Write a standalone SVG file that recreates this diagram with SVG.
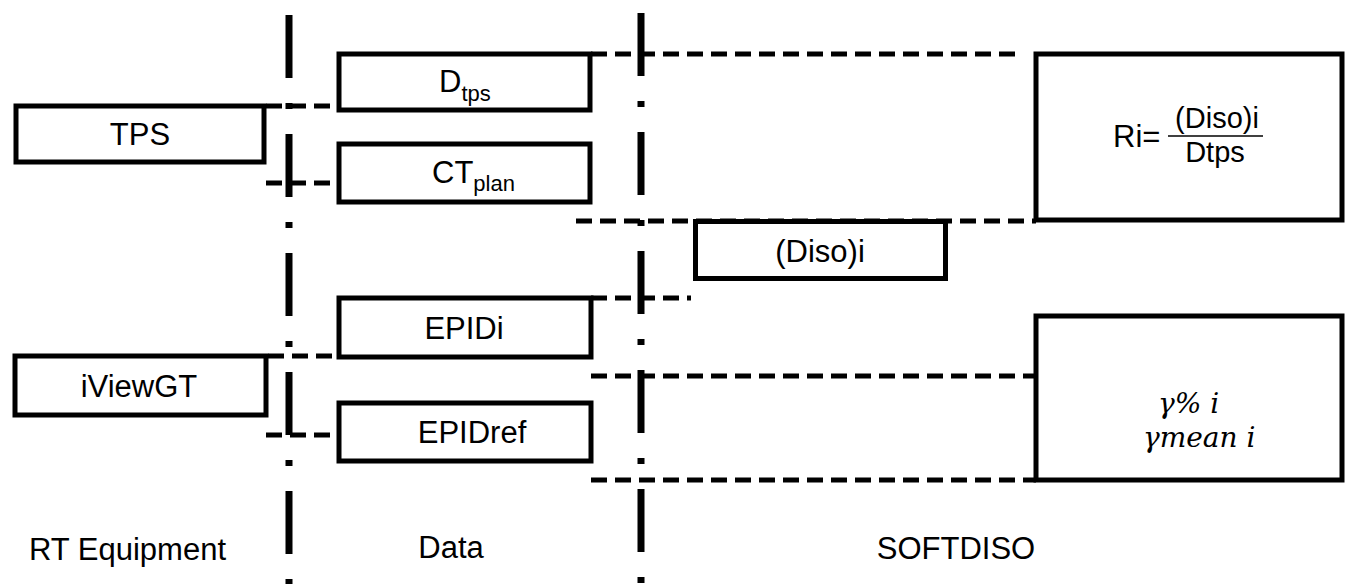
<svg xmlns="http://www.w3.org/2000/svg" width="1349" height="584" viewBox="0 0 1349 584">
<style>
.box{fill:#fff;stroke:#000;stroke-width:5;stroke-linejoin:miter}
.sep{stroke:#000;stroke-width:7;stroke-dasharray:63 25 6 25;fill:none}
.con{stroke:#000;stroke-width:5;stroke-dasharray:16 8;fill:none}
.t{font-family:"Liberation Sans",Arial,sans-serif;font-size:31px;fill:#000}
.f{font-size:29px}
.m{text-anchor:middle}
.sub{font-size:22px}
.g{font-family:"DejaVu Serif","Liberation Serif",serif;font-style:italic;font-size:28px;fill:#000}
</style>
<rect width="1349" height="584" fill="#fff"/>
<g id="separators">
<line class="sep" x1="289" y1="15" x2="289" y2="584"/>
<line class="sep" x1="641" y1="13" x2="641" y2="584"/>
</g>
<g id="connectors">
<line class="con" x1="266" y1="106" x2="337" y2="106"/>
<line class="con" x1="266" y1="183" x2="337" y2="183"/>
<line class="con" x1="591" y1="54" x2="1022" y2="54"/>
<line class="con" x1="576" y1="221" x2="1036" y2="221"/>
<line class="con" x1="591" y1="298" x2="691" y2="298"/>
<line class="con" x1="268" y1="356" x2="337" y2="356"/>
<line class="con" x1="266" y1="435" x2="337" y2="435"/>
<line class="con" x1="591" y1="376" x2="1036" y2="376"/>
<line class="con" x1="591" y1="480" x2="1036" y2="480"/>
</g>
<g id="tps">
<rect class="box" x="16" y="106" width="248" height="56"/>
<text class="t m" x="140" y="145">TPS</text>
</g>
<g id="iviewgt">
<rect class="box" x="15" y="356" width="251" height="59"/>
<text class="t m" x="139" y="397">iViewGT</text>
</g>
<g id="dtps">
<rect class="box" x="339" y="54" width="251" height="56"/>
<text class="t" x="439" y="92">D<tspan class="sub" dy="9">tps</tspan></text>
</g>
<g id="ctplan">
<rect class="box" x="339" y="144" width="251" height="58"/>
<text class="t" x="432" y="183">CT<tspan class="sub" dy="8">plan</tspan></text>
</g>
<g id="epidi">
<rect class="box" x="339" y="298" width="252" height="59"/>
<text class="t m" x="464" y="339">EPIDi</text>
</g>
<g id="epidref">
<rect class="box" x="339" y="403" width="252" height="58"/>
<text class="t m" x="472" y="443">EPIDref</text>
</g>
<g id="diso">
<rect class="box" x="695.5" y="221.5" width="250" height="57"/>
<text class="t m" x="820" y="262">(Diso)i</text>
</g>
<g id="ri">
<rect class="box" x="1036" y="54" width="306" height="166"/>
<text class="t" x="1113" y="147">Ri=</text>
<text class="t f m" x="1217" y="128">(Diso)i</text>
<line x1="1168" y1="136" x2="1263" y2="136" stroke="#000" stroke-width="1.5"/>
<text class="t f m" x="1215" y="162">Dtps</text>
</g>
<g id="gamma">
<rect class="box" x="1036" y="316" width="306" height="164"/>
<text class="g" x="1158" y="413">γ% i</text>
<text class="g" x="1143" y="447">γmean i</text>
</g>
<g id="labels">
<text class="t" x="29" y="560">RT Equipment</text>
<text class="t m" x="451" y="558">Data</text>
<text class="t m" x="956" y="559">SOFTDISO</text>
</g>
</svg>
